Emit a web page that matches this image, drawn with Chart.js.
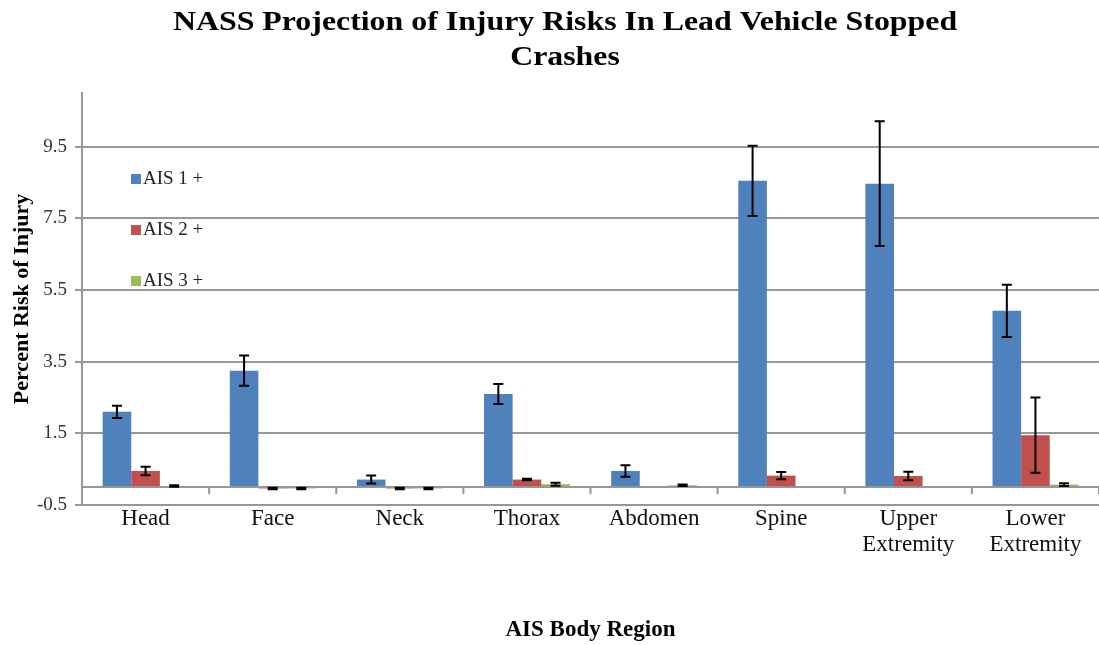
<!DOCTYPE html>
<html>
<head>
    <title>NASS Projection of Injury Risks</title>
    <script src="https://cdn.jsdelivr.net/npm/chart.js@4.4.0/dist/chart.umd.min.js"></script>
    <style>
        body { margin: 0; background: #fff; }
    </style>
</head>
<body>
    <canvas id="barChart" width="1099" height="645"></canvas>
    <script>
        const categories = ['Head', 'Face', 'Neck', 'Thorax', 'Abdomen', 'Spine', ['Upper', 'Extremity'], ['Lower', 'Extremity']];
        const seriesNames = ['AIS 1 +', 'AIS 2 +', 'AIS 3 +'];
        const seriesColors = ['#4f81bd', '#c0504d', '#9bbb59'];

        const ais1 = [2.10, 3.25, 0.21, 2.60, 0.45, 8.55, 8.47, 4.92];
        const ais1Err = [0.17, 0.42, 0.11, 0.28, 0.16, 0.98, 1.74, 0.73];
        const ais2 = [0.45, -0.04, -0.04, 0.21, null, 0.32, 0.31, 1.45];
        const ais2Err = [0.12, 0.02, 0.02, 0.02, null, 0.10, 0.12, 1.05];
        const ais3 = [0.03, -0.04, -0.04, 0.08, 0.05, null, null, 0.07];
        const ais3Err = [0.02, 0.02, 0.02, 0.04, 0.02, null, null, 0.04];

        const yTicks = [-0.5, 1.5, 3.5, 5.5, 7.5, 9.5];
        const yMin = -0.5;
        const yMax = 11;

        const serif = '"Liberation Serif", "Times New Roman", serif';
        const gridGray = '#979797';

        // error bars drawn on top of the bars, using the chart's own scales
        const errorBars = {
            id: 'errorBars',
            afterDatasetsDraw(chart) {
                const ctx = chart.ctx;
                const y = chart.scales.y;
                ctx.save();
                ctx.strokeStyle = '#000';
                ctx.lineWidth = 2;
                chart.data.datasets.forEach((ds, i) => {
                    const meta = chart.getDatasetMeta(i);
                    meta.data.forEach((bar, j) => {
                        const v = ds.data[j];
                        const e = ds.errors[j];
                        if (v === null || e === null) return;
                        const top = y.getPixelForValue(v + e);
                        const bot = y.getPixelForValue(v - e);
                        ctx.beginPath();
                        ctx.moveTo(bar.x, top);
                        ctx.lineTo(bar.x, bot);
                        ctx.moveTo(bar.x - 5, top);
                        ctx.lineTo(bar.x + 5, top);
                        ctx.moveTo(bar.x - 5, bot);
                        ctx.lineTo(bar.x + 5, bot);
                        ctx.stroke();
                    });
                });
                ctx.restore();
            }
        };

        // zero line ticks, title and the in-plot legend
        const decorations = {
            id: 'decorations',
            afterDraw(chart) {
                const ctx = chart.ctx;
                const x = chart.scales.x;
                const y = chart.scales.y;
                const zero = y.getPixelForValue(0);
                const half = (x.getPixelForValue(1) - x.getPixelForValue(0)) / 2;
                ctx.save();
                ctx.strokeStyle = gridGray;
                ctx.lineWidth = 2;
                for (let i = 0; i < categories.length; i++) {
                    const bx = x.getPixelForValue(i) + half;
                    ctx.beginPath();
                    ctx.moveTo(bx, zero);
                    ctx.lineTo(bx, zero + 7);
                    ctx.stroke();
                }

                // title, stretched a little sideways like the original
                ctx.save();
                ctx.translate(565, 0);
                ctx.scale(1.18, 1);
                ctx.fillStyle = '#000';
                ctx.textAlign = 'center';
                ctx.textBaseline = 'alphabetic';
                ctx.font = 'bold 27px ' + serif;
                ctx.fillText('NASS Projection of Injury Risks In Lead Vehicle Stopped', 0, 30);
                ctx.fillText('Crashes', 0, 65);
                ctx.restore();

                ctx.font = '19px ' + serif;
                ctx.textAlign = 'left';
                ctx.textBaseline = 'middle';
                chart.data.datasets.forEach((ds, i) => {
                    const cy = 179 + i * 51;
                    ctx.fillStyle = ds.backgroundColor;
                    ctx.fillRect(131, cy - 5, 10, 10);
                    ctx.fillStyle = '#222';
                    ctx.fillText(ds.label, 143, cy);
                });
                ctx.restore();
            }
        };

        const ctx = document.getElementById('barChart').getContext('2d');
        const barChart = new Chart(ctx, {
            type: 'bar',
            data: {
                labels: categories,
                datasets: [
                    { label: seriesNames[0], data: ais1, errors: ais1Err, backgroundColor: seriesColors[0] },
                    { label: seriesNames[1], data: ais2, errors: ais2Err, backgroundColor: seriesColors[1] },
                    { label: seriesNames[2], data: ais3, errors: ais3Err, backgroundColor: seriesColors[2] }
                ]
            },
            options: {
                responsive: false,
                animation: false,
                devicePixelRatio: 1,
                layout: { padding: { top: 93, right: 0, left: 0, bottom: 0 } },
                datasets: {
                    bar: { categoryPercentage: 0.675, barPercentage: 1.0 }
                },
                plugins: {
                    legend: { display: false },
                    title: { display: false },
                    tooltip: { enabled: false }
                },
                scales: {
                    x: {
                        grid: { display: true, drawOnChartArea: false, drawTicks: false },
                        border: { display: true, color: gridGray, width: 2 },
                        ticks: {
                            color: '#111',
                            padding: 1,
                            maxRotation: 0,
                            autoSkip: false,
                            font: { family: serif, size: 23, lineHeight: 1.13 }
                        },
                        title: {
                            display: true,
                            text: 'AIS Body Region',
                            color: '#000',
                            font: { family: serif, size: 23, weight: 'bold', lineHeight: 1.2 },
                            padding: { top: 0, bottom: 1 }
                        },
                        afterFit(scale) { scale.height = 140; }
                    },
                    y: {
                        min: yMin,
                        max: yMax,
                        afterBuildTicks(scale) {
                            scale.ticks = yTicks.concat([0]).map(v => ({ value: v }));
                        },
                        grid: {
                            color: gridGray,
                            lineWidth: 2,
                            tickLength: 7,
                            tickColor: c => (c.tick && c.tick.value === 0 ? 'rgba(0,0,0,0)' : gridGray)
                        },
                        border: { display: true, color: gridGray, width: 2 },
                        ticks: {
                            color: '#333',
                            padding: 8,
                            font: { family: serif, size: 19 },
                            callback: v => (v === 0 ? '' : String(v))
                        },
                        title: {
                            display: true,
                            text: 'Percent Risk of Injury',
                            color: '#000',
                            font: { family: serif, size: 22, weight: 'bold', lineHeight: 1.2 },
                            padding: { top: 9, bottom: 0 }
                        },
                        afterFit(scale) { scale.width = 82; }
                    }
                }
            },
            plugins: [errorBars, decorations]
        });
    </script>
</body>
</html>
